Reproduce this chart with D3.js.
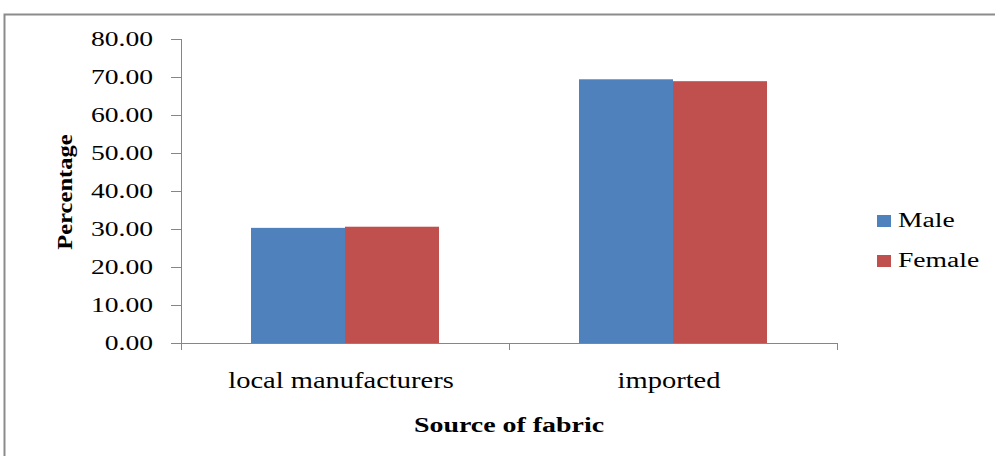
<!DOCTYPE html>
<html>
<head>
<meta charset="utf-8">
<script src="https://cdn.jsdelivr.net/npm/d3@7"></script>
<style>
  html, body { margin: 0; padding: 0; background: #fff; }
  svg { display: block; }
</style>
</head>
<body>
<script>
// Share of respondents by source of fabric, split by gender
const categories = ["local manufacturers", "imported"];
const seriesNames = ["Male", "Female"];
const maleValues = [30.3, 69.4];
const femaleValues = [30.6, 68.9];
const yTicks = [0, 10, 20, 30, 40, 50, 60, 70, 80];
const colors = ["#4F81BD", "#C0504D"];

const FONT = "Liberation Serif";
// the chart's lettering is set wide: glyphs are stretched horizontally
const SX_SMALL = 1.38;   // tick numbers and legend
const SX_LARGE = 1.24;   // category names and axis titles

const W = 995, H = 456;
const margin = { left: 181, right: 158, top: 39, bottom: 113 };
const plotW = W - margin.left - margin.right;
const plotH = H - margin.top - margin.bottom;

const svg = d3.select("body").append("svg")
  .attr("width", W).attr("height", H);

// outer frame
svg.append("path")
  .attr("d", `M4.5,${H} V14.5 H${W}`)
  .attr("fill", "none").attr("stroke", "#8c8c8c").attr("stroke-width", 2);

const g = svg.append("g").attr("transform", `translate(${margin.left},${margin.top})`);

const x0 = d3.scaleBand().domain(categories).range([0, plotW]).paddingInner(0).paddingOuter(0);
const x1 = d3.scaleBand().domain(seriesNames).range([0, 188]);
const y = d3.scaleLinear().domain([0, 80]).range([plotH, 0]);

const rows = categories.map((c, i) => ({ cat: c, vals: [maleValues[i], femaleValues[i]] }));

// bars
const groups = g.selectAll(".grp").data(rows).join("g")
  .attr("transform", d => `translate(${x0(d.cat) + x0.bandwidth() / 2 - 94},0)`);
groups.selectAll("rect").data(d => d.vals.map((v, k) => ({ v, k })))
  .join("rect")
  .attr("x", d => x1(seriesNames[d.k]))
  .attr("width", x1.bandwidth())
  .attr("y", d => y(d.v))
  .attr("height", d => plotH - y(d.v))
  .attr("fill", d => colors[d.k]);

// y axis
const yAxis = g.append("g").call(
  d3.axisLeft(y).tickValues(yTicks).tickFormat(d3.format(".2f")).tickSize(10).tickPadding(18)
);
yAxis.attr("font-family", FONT).attr("font-size", 20);
yAxis.select(".domain").attr("stroke", "#868686").attr("d", `M0.5,0V${plotH + 7}`);
yAxis.selectAll(".tick line").attr("stroke", "#868686");
yAxis.selectAll(".tick text")
  .attr("x", -28 / SX_SMALL)
  .attr("transform", `scale(${SX_SMALL},1)`)
  .attr("fill", "#000");

// x axis
const xAxis = g.append("g").attr("transform", `translate(0,${plotH})`)
  .call(d3.axisBottom(x0).tickSize(0).tickPadding(29));
xAxis.attr("font-family", FONT).attr("font-size", 23);
xAxis.select(".domain").attr("stroke", "#868686").attr("d", `M-10,0.5H${plotW}`);
xAxis.selectAll(".tick text")
  .attr("transform", `translate(-4,0) scale(${SX_LARGE},1)`)
  .attr("fill", "#000");
// category separators
const sep = [0, plotW / 2, plotW];
g.selectAll(".sep").data(sep).join("line")
  .attr("x1", d => Math.round(d) + 0.5).attr("x2", d => Math.round(d) + 0.5)
  .attr("y1", plotH).attr("y2", plotH + 7)
  .attr("stroke", "#868686");

// axis titles
svg.append("text")
  .attr("transform", `translate(${margin.left + plotW / 2},432) scale(1.27,1)`)
  .attr("text-anchor", "middle")
  .attr("font-family", FONT)
  .attr("font-size", 22).attr("font-weight", "bold")
  .text("Source of fabric");

svg.append("text")
  .attr("transform", `translate(72,${margin.top + 153}) rotate(-90) scale(1.17,1)`)
  .attr("text-anchor", "middle")
  .attr("font-family", FONT)
  .attr("font-size", 21).attr("font-weight", "bold")
  .text("Percentage");

// legend
const legend = svg.append("g").attr("transform", "translate(877,215)");
seriesNames.forEach((s, i) => {
  const row = legend.append("g").attr("transform", `translate(0,${i * 40})`);
  row.append("rect").attr("width", 14).attr("height", 12).attr("fill", colors[i]);
  row.append("text")
    .attr("transform", `translate(21,12) scale(${SX_SMALL},1)`)
    .attr("font-family", FONT)
    .attr("font-size", 20).text(s);
});
</script>
</body>
</html>
